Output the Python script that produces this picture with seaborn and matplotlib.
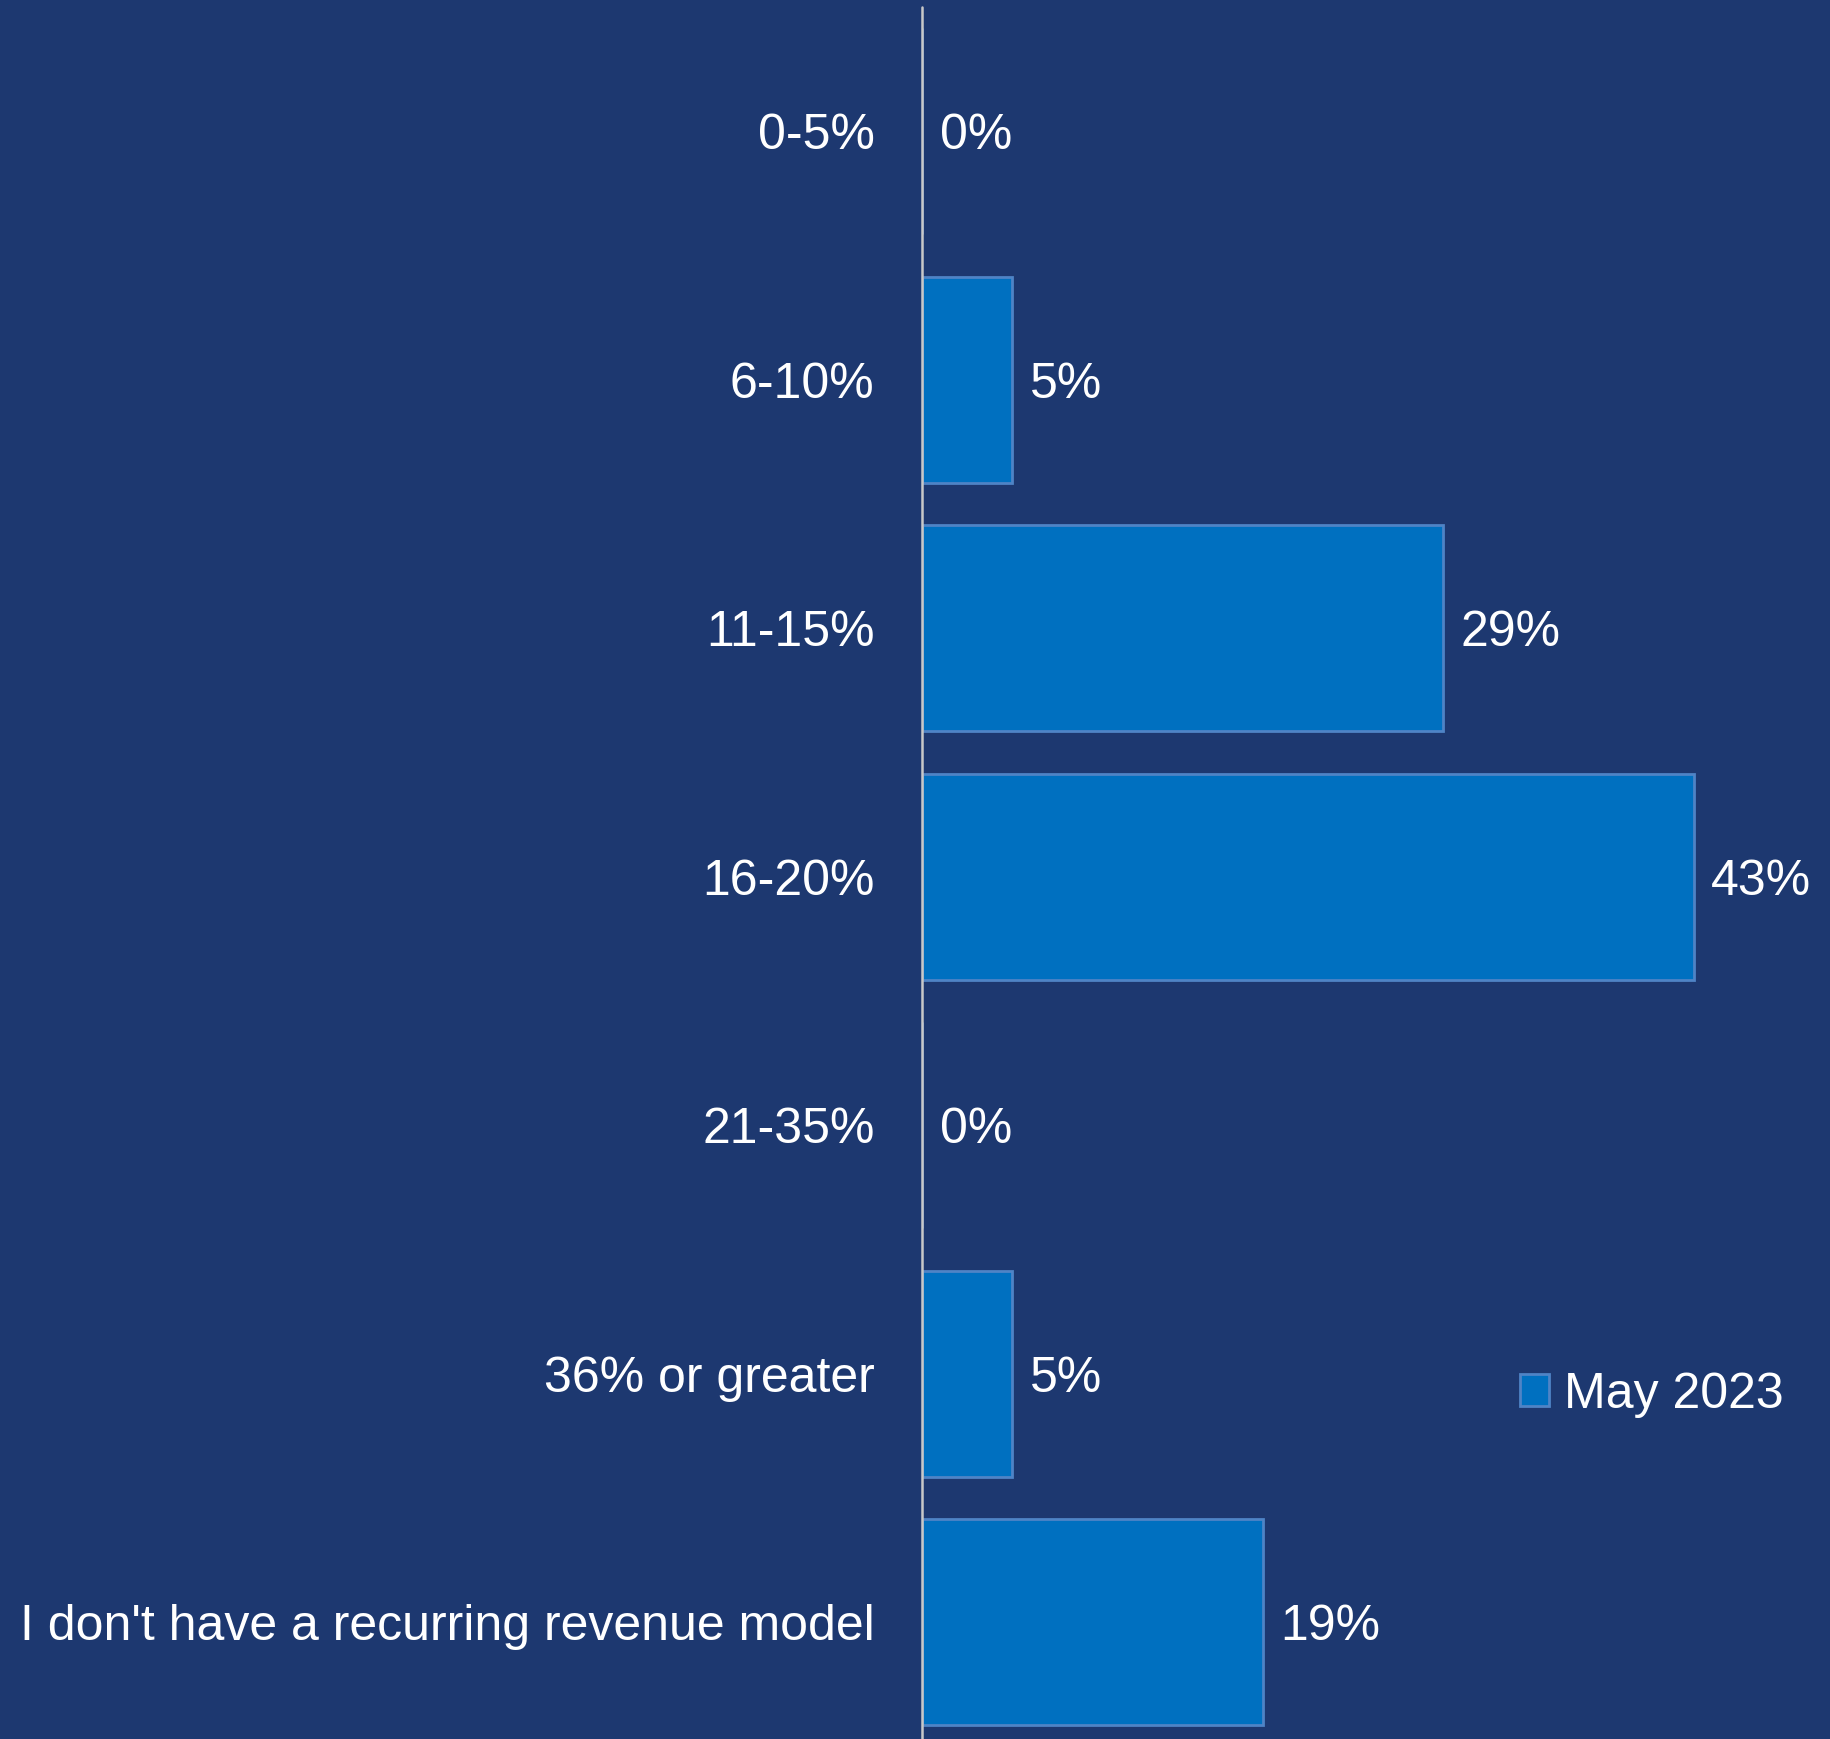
import matplotlib
matplotlib.use("Agg")
import matplotlib.pyplot as plt
import seaborn as sns
import pandas as pd

categories = ["0-5%", "6-10%", "11-15%", "16-20%", "21-35%", "36% or greater",
              "I don't have a recurring revenue model"]
may_2023 = [0, 5, 29, 43, 0, 5, 19]
series_name = "May 2023"

BG = "#1D3870"
BAR = "#0070C0"
EDGE = "#4F84C6"
TEXT = "white"

sns.set_theme(style="white")
plt.rcParams["font.family"] = ["Liberation Sans", "DejaVu Sans"]

df = pd.DataFrame({"category": categories, "share": may_2023})

fig = plt.figure(figsize=(18.30, 17.39), dpi=100, facecolor=BG)
ax = fig.add_axes([0.504, 0.0, 0.496, 0.996])
ax.set_facecolor(BG)

sns.barplot(data=df, x="share", y="category", orient="h", color=BAR,
            edgecolor=EDGE, linewidth=2.0, width=0.83, saturation=1,
            label=series_name, ax=ax)

ax.set_xlim(0, 50.6)
ax.set_ylim(6.47, -0.5)
ax.set_xlabel("")
ax.set_ylabel("")
ax.set_xticks([])
ax.tick_params(axis="y", length=0, pad=34.5, labelsize=36, labelcolor=TEXT)

for side in ["top", "right", "bottom", "left"]:
    ax.spines[side].set_visible(False)
# vertical category axis line, drawn above the bar outlines
ax.axvline(0, color="#C8C8C8", linewidth=1.8, zorder=5, clip_on=False)

for i, v in enumerate(may_2023):
    ax.annotate(f"{v}%", xy=(v, i), xytext=(12.6, 0), textcoords="offset points",
                ha="left", va="center_baseline", fontsize=36, color=TEXT)

leg = ax.legend(loc="center left", bbox_to_anchor=(0.806, 0.198),
                bbox_transform=fig.transFigure, frameon=False,
                fontsize=36, labelcolor=TEXT, handlelength=0.58,
                handleheight=0.58, handletextpad=0.3)

fig.savefig("out.png", dpi=100, facecolor=BG)
